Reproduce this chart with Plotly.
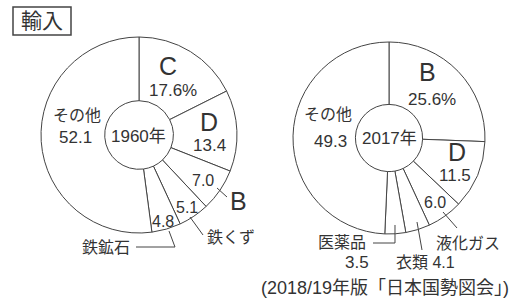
import plotly.graph_objects as go

W, H = 517, 298

# Data
labels_1960 = ["C", "D", "B", "鉄くず", "鉄鉱石", "その他"]
values_1960 = [17.6, 13.4, 7.0, 5.1, 4.8, 52.1]
labels_2017 = ["B", "D", "液化ガス", "衣類", "医薬品", "その他"]
values_2017 = [25.6, 11.5, 6.0, 4.1, 3.5, 49.3]

FONT = "Liberation Sans, Noto Sans CJK JP, sans-serif"
INK = "#333333"

def px(x, y):
    return x / W, 1 - y / H

def dom(x0, x1, y0, y1):
    return dict(x=[x0 / W, x1 / W], y=[1 - y1 / H, 1 - y0 / H])

fig = go.Figure()
common = dict(sort=False, direction="clockwise", rotation=0, hole=0.35,
              textinfo="none", hoverinfo="skip", showlegend=False,
              marker=dict(colors=["white"] * 6, line=dict(color="#444444", width=1)))
fig.add_trace(go.Pie(labels=labels_1960, values=values_1960,
                     domain=dom(41, 237, 37, 233), **common))
fig.add_trace(go.Pie(labels=labels_2017, values=values_2017,
                     domain=dom(293, 485, 42, 234), **common))

ann = []
def t(x, y, s, size=16, **kw):
    ax, ay = px(x, y)
    d = dict(x=ax, y=ay, xref="paper", yref="paper", text=s, showarrow=False,
             xanchor="center", yanchor="middle",
             font=dict(family=FONT, size=size, color=INK))
    d.update(kw)
    ann.append(d)

# Title
t(42, 21, "輸入", 21)

# 1960
t(168, 66, "C", 25)
t(173, 91, "17.6%", 17)
t(209, 122, "D", 25)
t(209, 145, "13.4", 17)
t(203, 180, "7.0", 16)
t(238, 201, "B", 25)
t(187, 207, "5.1", 16)
t(163, 221, "4.8", 16)
t(231, 237, "鉄くず", 16)
t(106, 247, "鉄鉱石", 16)
t(77, 115, "その他", 16)
t(75, 137, "52.1", 17)
t(138, 136, "1960年", 17)

# 2017
t(427, 72, "B", 25)
t(432, 99, "25.6%", 17)
t(457, 152, "D", 25)
t(455, 175, "11.5", 17)
t(435, 202, "6.0", 16)
t(468, 243, "液化ガス", 16)
t(425, 262, "衣類 4.1", 16)
t(342, 242, "医薬品", 16)
t(357, 262, "3.5", 17)
t(328, 114, "その他", 16)
t(330, 141, "49.3", 17)
t(389, 138, "2017年", 17)

t(385, 288, "(2018/19年版「日本国勢図会」)", 18)

# Leader lines
def path(points):
    s = ""
    for i, (x, y) in enumerate(points):
        a, b = px(x, y)
        s += ("M" if i == 0 else " L") + f" {a:.5f},{b:.5f}"
    return dict(type="path", path=s, xref="paper", yref="paper",
                line=dict(color="#444444", width=1))

x0, y0 = px(13, 35)
x1, y1 = px(71, 7)
shapes = [
    dict(type="rect", xref="paper", yref="paper", x0=x0, y0=y0, x1=x1, y1=y1,
         line=dict(color="#444444", width=1.5)),
    path([(217, 188), (227, 197)]),
    path([(190, 217), (203, 235)]),
    path([(136, 247), (175, 247), (169, 231)]),
    path([(443, 212), (457, 228)]),
    path([(417, 222), (422, 250)]),
    path([(373, 243), (395, 243), (395, 225)]),
]

fig.update_layout(width=W, height=H, margin=dict(l=0, r=0, t=0, b=0),
                  paper_bgcolor="white", plot_bgcolor="white",
                  annotations=ann, shapes=shapes)
fig.write_html("out.html", config={"displayModeBar": False, "staticPlot": True},
               post_script="document.body.style.margin='0';document.body.style.overflow='hidden';")
